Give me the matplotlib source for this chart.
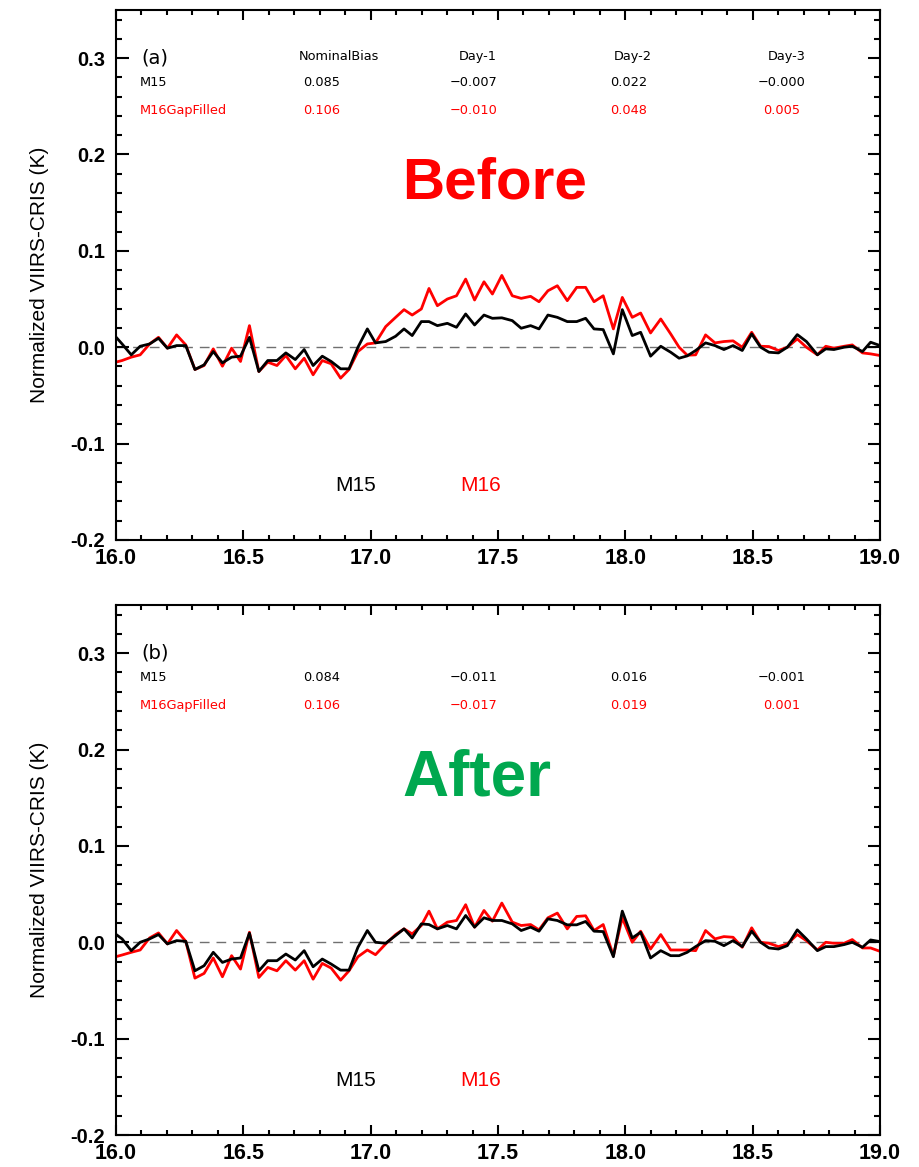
import numpy as np
import matplotlib
matplotlib.use("Agg")
import matplotlib.pyplot as plt
from matplotlib.ticker import MultipleLocator

# wavelength grid (micron)
wl = [15.989, 16.024, 16.060, 16.095, 16.132, 16.167, 16.202, 16.238, 16.274, 16.310,
      16.346, 16.382, 16.418, 16.454, 16.489, 16.524, 16.561, 16.596, 16.632, 16.667,
      16.704, 16.739, 16.774, 16.810, 16.845, 16.882, 16.915, 16.950, 16.987, 17.019,
      17.059, 17.098, 17.131, 17.163, 17.199, 17.229, 17.262, 17.301, 17.337, 17.373,
      17.408, 17.445, 17.478, 17.515, 17.556, 17.591, 17.628, 17.661, 17.696, 17.733,
      17.772, 17.809, 17.844, 17.877, 17.913, 17.953, 17.988, 18.027, 18.060, 18.099,
      18.139, 18.178, 18.211, 18.243, 18.276, 18.315, 18.352, 18.387, 18.423, 18.459,
      18.496, 18.531, 18.564, 18.601, 18.636, 18.675, 18.711, 18.754, 18.787, 18.819,
      18.859, 18.891, 18.931, 18.963, 19.000]

# (a) before
before_m15 = [0.0138, 0.0034, -0.0079, 0.0010, 0.0034, 0.0093, -0.0010, 0.0017, 0.0017, -0.0231,
              -0.0183, -0.0045, -0.0162, -0.0103, -0.0093, 0.0103, -0.0252, -0.0138, -0.0138, -0.0059,
              -0.0128, -0.0024, -0.0190, -0.0093, -0.0148, -0.0224, -0.0224, 0.0000, 0.0190, 0.0045,
              0.0059, 0.0114, 0.0190, 0.0121, 0.0266, 0.0266, 0.0224, 0.0248, 0.0207, 0.0345,
              0.0231, 0.0334, 0.0300, 0.0305, 0.0276, 0.0197, 0.0224, 0.0190, 0.0334, 0.0310,
              0.0266, 0.0266, 0.0300, 0.0190, 0.0183, -0.0069, 0.0390, 0.0121, 0.0155, -0.0093,
              0.0010, -0.0052, -0.0114, -0.0090, -0.0034, 0.0045, 0.0017, -0.0024, 0.0017, -0.0034,
              0.0138, 0.0000, -0.0052, -0.0059, 0.0000, 0.0131, 0.0059, -0.0079, -0.0017, -0.0024,
              0.0000, 0.0010, -0.0045, 0.0052, 0.0017]
before_m16 = [-0.0162, -0.0138, -0.0103, -0.0079, 0.0034, 0.0103, -0.0010, 0.0128, 0.0024, -0.0231,
              -0.0190, -0.0017, -0.0197, -0.0010, -0.0148, 0.0224, -0.0252, -0.0155, -0.0190, -0.0086,
              -0.0224, -0.0114, -0.0286, -0.0138, -0.0172, -0.0321, -0.0231, -0.0045, 0.0034, 0.0045,
              0.0214, 0.0310, 0.0390, 0.0334, 0.0397, 0.0610, 0.0431, 0.0500, 0.0534, 0.0707,
              0.0490, 0.0679, 0.0552, 0.0745, 0.0534, 0.0507, 0.0528, 0.0472, 0.0586, 0.0638,
              0.0483, 0.0621, 0.0621, 0.0472, 0.0534, 0.0190, 0.0517, 0.0310, 0.0355, 0.0148,
              0.0293, 0.0138, 0.0000, -0.0083, -0.0079, 0.0128, 0.0045, 0.0059, 0.0066, 0.0000,
              0.0155, 0.0010, 0.0007, -0.0034, 0.0000, 0.0086, 0.0000, -0.0079, 0.0010, -0.0010,
              0.0010, 0.0024, -0.0059, -0.0069, -0.0086]

# (b) after
after_m15 = [0.0104, 0.0035, -0.0087, 0.0000, 0.0035, 0.0080, -0.0017, 0.0017, 0.0010, -0.0296,
             -0.0243, -0.0104, -0.0209, -0.0174, -0.0163, 0.0094, -0.0296, -0.0191, -0.0191, -0.0122,
             -0.0184, -0.0087, -0.0254, -0.0174, -0.0226, -0.0289, -0.0289, -0.0052, 0.0122, 0.0000,
             -0.0010, 0.0070, 0.0139, 0.0045, 0.0191, 0.0184, 0.0139, 0.0174, 0.0139, 0.0278,
             0.0157, 0.0254, 0.0226, 0.0226, 0.0191, 0.0122, 0.0157, 0.0115, 0.0243, 0.0226,
             0.0181, 0.0181, 0.0216, 0.0115, 0.0111, -0.0150, 0.0323, 0.0045, 0.0104, -0.0163,
             -0.0087, -0.0139, -0.0139, -0.0104, -0.0045, 0.0017, 0.0010, -0.0035, 0.0017, -0.0045,
             0.0115, 0.0000, -0.0059, -0.0070, -0.0035, 0.0129, 0.0035, -0.0087, -0.0045, -0.0045,
             -0.0024, 0.0000, -0.0052, 0.0024, 0.0007]
after_m16 = [-0.0157, -0.0132, -0.0104, -0.0080, 0.0045, 0.0097, -0.0017, 0.0122, 0.0010, -0.0372,
             -0.0323, -0.0163, -0.0358, -0.0139, -0.0278, 0.0104, -0.0365, -0.0261, -0.0296, -0.0191,
             -0.0289, -0.0191, -0.0383, -0.0219, -0.0268, -0.0393, -0.0296, -0.0150, -0.0080, -0.0129,
             -0.0017, 0.0080, 0.0139, 0.0087, 0.0174, 0.0323, 0.0139, 0.0209, 0.0226, 0.0390,
             0.0157, 0.0330, 0.0219, 0.0407, 0.0209, 0.0174, 0.0184, 0.0129, 0.0254, 0.0303,
             0.0139, 0.0268, 0.0275, 0.0122, 0.0184, -0.0139, 0.0254, 0.0000, 0.0115, -0.0070,
             0.0080, -0.0080, -0.0080, -0.0080, -0.0087, 0.0122, 0.0035, 0.0059, 0.0052, -0.0052,
             0.0150, 0.0000, -0.0010, -0.0045, -0.0017, 0.0080, 0.0017, -0.0080, 0.0000, -0.0010,
             -0.0010, 0.0028, -0.0059, -0.0059, -0.0094]

# bias tables
col_names = ["NominalBias", "Day-1", "Day-2", "Day-3"]
before_m15_bias = ["0.085", "\u22120.007", "0.022", "\u22120.000"]
before_m16_bias = ["0.106", "\u22120.010", "0.048", "0.005"]
after_m15_bias = ["0.084", "\u22120.011", "0.016", "\u22120.001"]
after_m16_bias = ["0.106", "\u22120.017", "0.019", "0.001"]

col_x = [16.807, 17.404, 18.013, 18.614]
head_x = [16.874, 17.42, 18.029, 18.634]

small = dict(fontsize=9.3, family="DejaVu Sans")

fig = plt.figure(figsize=(9.19, 11.67), dpi=100)
ax1 = fig.add_axes([0.1262, 0.5373, 0.8314, 0.4542])
ax2 = fig.add_axes([0.1262, 0.0274, 0.8314, 0.4542])

panels = [
    (ax1, before_m15, before_m16, "(a)", before_m15_bias, before_m16_bias, "Before", "#ff0000", 17.485, 42, True),
    (ax2, after_m15, after_m16, "(b)", after_m15_bias, after_m16_bias, "After", "#00a84f", 17.416, 46, False),
]

for ax, m15, m16, tag, b15, b16, word, wcol, wx, wsize, header in panels:
    ax.axhline(0.0, color="#707070", lw=1.0, ls=(0, (7, 5)), zorder=1)
    ax.plot(wl, m15, color="black", lw=2.0, zorder=3)
    ax.plot(wl, m16, color="red", lw=2.0, zorder=2)
    ax.set_xlim(16.0, 19.0)
    ax.set_ylim(-0.2, 0.35)
    ax.xaxis.set_major_locator(MultipleLocator(0.5))
    ax.xaxis.set_minor_locator(MultipleLocator(0.1))
    ax.yaxis.set_major_locator(MultipleLocator(0.1))
    ax.yaxis.set_minor_locator(MultipleLocator(0.02))
    ax.xaxis.set_major_formatter(plt.FormatStrFormatter("%.1f"))
    ax.yaxis.set_major_formatter(plt.FormatStrFormatter("%.1f"))
    ax.tick_params(axis="both", which="both", direction="in", top=True, right=True, width=1.5)
    ax.tick_params(axis="x", which="major", length=7, pad=6)
    ax.tick_params(axis="x", which="minor", length=3.5)
    ax.tick_params(axis="y", which="major", length=9, pad=8)
    ax.tick_params(axis="y", which="minor", length=4.5)
    for lab in ax.get_xticklabels():
        lab.set_fontsize(15.5)
        lab.set_fontweight("bold")
        lab.set_family("Liberation Sans")
    for lab in ax.get_yticklabels():
        lab.set_fontsize(14.5)
        lab.set_fontweight("bold")
        lab.set_family("Liberation Sans")
    for sp in ax.spines.values():
        sp.set_linewidth(1.5)
    ax.set_ylabel("Normalized VIIRS-CRIS (K)", fontsize=15, family="Liberation Sans", labelpad=15)

    ax.text(16.10, 0.300, tag, fontsize=14, va="center", ha="left", color="black",
            family="DejaVu Sans")
    if header:
        for hx, name in zip(head_x, col_names):
            ax.text(hx, 0.302, name, ha="center", va="center", **small)
    ax.text(16.095, 0.2746, "M15", ha="left", va="center", **small)
    ax.text(16.095, 0.2456, "M16GapFilled", ha="left", va="center", color="red", **small)
    for cx, v15, v16 in zip(col_x, b15, b16):
        ax.text(cx, 0.2746, v15, ha="center", va="center", **small)
        ax.text(cx, 0.2456, v16, ha="center", va="center", color="red", **small)

    ax.text(wx, 0.170, word, fontsize=wsize, fontweight="bold", family="Liberation Sans",
            color=wcol, ha="center", va="center")
    ax.text(16.94, -0.143, "M15", fontsize=15, family="Liberation Sans", ha="center", va="center")
    ax.text(17.43, -0.143, "M16", fontsize=15, family="Liberation Sans", ha="center", va="center",
            color="red")

fig.savefig("out.png", dpi=100)
